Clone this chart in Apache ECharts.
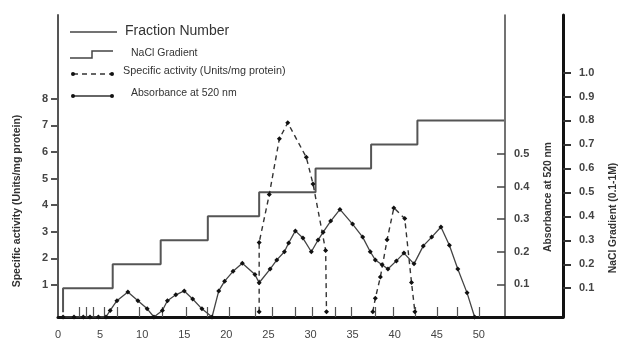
<!DOCTYPE html>
<html>
<head>
<meta charset="utf-8">
<script src="https://cdn.jsdelivr.net/npm/echarts@6/dist/echarts.min.js"></script>
<style>
  html, body { margin: 0; padding: 0; background: #fff; }
  #chart { width: 626px; height: 346px; }
</style>
</head>
<body>
<div id="chart"></div>
<script>
// NaCl gradient steps (fraction number where each step starts, molarity)
var naclFrac = [0.6, 0.6, 6.5, 12.2, 17.8, 23.9, 30.6, 37.2, 42.7, 53];
var naclVal = [0, 0.1, 0.2, 0.3, 0.4, 0.5, 0.6, 0.7, 0.8, 0.8];

// specific activity (Units/mg protein), null = gap between the two peaks
var actFrac = [23.9, 23.9, 25.1, 26.3, 27.3, 29.5, 30.3, 31.8, 31.9, 35, 37.4, 37.7, 38.3, 39.1, 39.9, 41.2, 42.0, 42.4];
var actVal = [0, 2.6, 4.4, 6.5, 7.1, 5.8, 4.8, 2.3, 0, null, 0, 0.5, 1.3, 2.7, 3.9, 3.5, 1.1, 0];

// absorbance at 520 nm
var absFrac = [0.6, 1.9, 3.0, 3.8, 4.8, 5.7, 6.2, 7.0, 8.3, 9.5, 10.6, 11.4, 12.4, 13.0, 14.0, 15.0, 16.0, 17.1,
  18.3, 19.1, 19.8, 20.8, 21.9, 23.4, 23.9, 25.2, 26.0, 26.9, 27.4, 28.2, 29.1, 30.1, 30.9, 31.5, 32.4, 33.5,
  35.0, 36.2, 37.1, 37.7, 38.5, 39.2, 40.2, 41.1, 42.3, 43.4, 44.4, 45.5, 46.5, 47.5, 48.6, 49.5];
var absVal = [0, 0, 0, 0, 0, 0, 0.02, 0.05, 0.077, 0.05, 0.025, 0, 0.02, 0.05, 0.068, 0.08, 0.055, 0.025,
  0, 0.08, 0.11, 0.14, 0.165, 0.13, 0.105, 0.147, 0.175, 0.2, 0.227, 0.264, 0.242, 0.2, 0.236, 0.26, 0.294, 0.33,
  0.285, 0.245, 0.2, 0.175, 0.16, 0.147, 0.172, 0.196, 0.163, 0.218, 0.245, 0.276, 0.22, 0.147, 0.074, 0];

// tick labels
var xLabels = [0, 5, 10, 15, 20, 25, 30, 35, 40, 45, 50];
var xTicks = [2.5, 3.4, 4.2, 5.5, 7, 9.7, 12.4, 15.2, 17.7, 20.4, 23.4, 25.4, 28.2, 30.2, 32.9, 34.9, 37.7, 39.8, 42.4, 45, 47.4, 50];
var actTicks = [1, 2, 3, 4, 5, 6, 7, 8];
var absTicks = [0.1, 0.2, 0.3, 0.4, 0.5];
var naclTicks = [0.1, 0.2, 0.3, 0.4, 0.5, 0.6, 0.7, 0.8, 0.9, 1.0];

function pairs(xs, ys) {
  return xs.map(function (x, i) { return [x, ys[i] === null ? '-' : ys[i]]; });
}

var myChart = echarts.init(document.getElementById('chart'));
var font = 'Liberation Sans';
var labelStyle = { fontSize: 11, fontWeight: 'bold', color: '#444', fontFamily: font };

var option = {
  animation: false,
  backgroundColor: '#fff',
  grid: { left: 58, right: 63, top: 15, bottom: 29 },
  xAxis: {
    type: 'value',
    min: 0,
    max: 60,
    splitLine: { show: false },
    axisLine: { onZero: false, lineStyle: { color: '#111', width: 3 } },
    axisTick: { inside: true, length: 10, customValues: xTicks, lineStyle: { color: '#555', width: 1.2 } },
    axisLabel: { customValues: xLabels, margin: 12, fontSize: 11, color: '#444', fontFamily: font }
  },
  yAxis: [{
    type: 'value',
    position: 'left',
    min: -0.2,
    max: 11.15,
    splitLine: { show: false },
    axisLine: { show: true, lineStyle: { color: '#555', width: 2 } },
    axisTick: { show: true, length: 7, customValues: actTicks, lineStyle: { color: '#555', width: 2 } },
    axisLabel: Object.assign({ customValues: actTicks, margin: 10 }, labelStyle)
  }, {
    type: 'value',
    position: 'right',
    offset: -58,
    min: 0,
    max: 0.926,
    splitLine: { show: false },
    axisLine: { show: true, lineStyle: { color: '#444', width: 1.5 } },
    axisTick: { show: true, inside: true, length: 8, customValues: absTicks, lineStyle: { color: '#444', width: 1.5 } },
    axisLabel: Object.assign({ customValues: absTicks, margin: 9, formatter: function (v) { return v.toFixed(1); } }, labelStyle)
  }, {
    type: 'value',
    position: 'right',
    offset: 0,
    min: -0.02,
    max: 1.24,
    splitLine: { show: false },
    axisLine: { show: true, lineStyle: { color: '#111', width: 3 } },
    axisTick: { show: true, length: 8, customValues: naclTicks, lineStyle: { color: '#333', width: 2 } },
    axisLabel: Object.assign({ customValues: naclTicks, margin: 16, formatter: function (v) { return v.toFixed(1); } }, labelStyle)
  }],
  series: [{
    name: 'NaCl Gradient',
    type: 'line',
    yAxisIndex: 2,
    step: 'end',
    symbol: 'none',
    lineStyle: { color: '#555', width: 2 },
    data: pairs(naclFrac, naclVal)
  }, {
    name: 'Specific activity (Units/mg protein)',
    type: 'line',
    yAxisIndex: 0,
    symbol: 'diamond',
    symbolSize: 5,
    connectNulls: false,
    itemStyle: { color: '#111' },
    lineStyle: { color: '#333', width: 1.4, type: [5, 4] },
    data: pairs(actFrac, actVal)
  }, {
    name: 'Absorbance at 520 nm',
    type: 'line',
    yAxisIndex: 1,
    symbol: 'diamond',
    symbolSize: 5,
    itemStyle: { color: '#111' },
    lineStyle: { color: '#444', width: 1.3 },
    data: pairs(absFrac, absVal)
  }],
  graphic: [
    // legend
    { type: 'line', shape: { x1: 70, y1: 32, x2: 117, y2: 32 }, style: { stroke: '#444', lineWidth: 1.5 } },
    { type: 'text', x: 125, y: 31, style: { text: 'Fraction Number', fontSize: 14, fill: '#333', fontFamily: font, verticalAlign: 'middle' } },
    { type: 'polyline', shape: { points: [[70, 58], [92, 58], [92, 51], [113, 51]] }, style: { stroke: '#444', lineWidth: 1.5, fill: null } },
    { type: 'text', x: 131, y: 53, style: { text: 'NaCl Gradient', fontSize: 10.5, fill: '#333', fontFamily: font, verticalAlign: 'middle' } },
    { type: 'line', shape: { x1: 73, y1: 74, x2: 112, y2: 74 }, style: { stroke: '#333', lineWidth: 1.4, lineDash: [5, 4] } },
    { type: 'circle', shape: { cx: 73, cy: 74, r: 2 }, style: { fill: '#111' } },
    { type: 'circle', shape: { cx: 112, cy: 74, r: 2 }, style: { fill: '#111' } },
    { type: 'text', x: 123, y: 71, style: { text: 'Specific activity (Units/mg protein)', fontSize: 10.8, fill: '#333', fontFamily: font, verticalAlign: 'middle' } },
    { type: 'line', shape: { x1: 73, y1: 96, x2: 112, y2: 96 }, style: { stroke: '#333', lineWidth: 1.4 } },
    { type: 'circle', shape: { cx: 73, cy: 96, r: 2 }, style: { fill: '#111' } },
    { type: 'circle', shape: { cx: 112, cy: 96, r: 2 }, style: { fill: '#111' } },
    { type: 'text', x: 131, y: 93, style: { text: 'Absorbance at 520 nm', fontSize: 10.5, fill: '#333', fontFamily: font, verticalAlign: 'middle' } },
    // axis titles
    { type: 'text', x: 17, y: 201, rotation: Math.PI / 2, style: { text: 'Specific activity (Units/mg protein)', fontSize: 10.5, fontWeight: 'bold', fill: '#333', fontFamily: font, align: 'center', verticalAlign: 'middle' } },
    { type: 'text', x: 548, y: 197, rotation: Math.PI / 2, style: { text: 'Absorbance at 520 nm', fontSize: 10.3, fontWeight: 'bold', fill: '#333', fontFamily: font, align: 'center', verticalAlign: 'middle' } },
    { type: 'text', x: 613, y: 218, rotation: Math.PI / 2, style: { text: 'NaCl Gradient (0.1-1M)', fontSize: 10.3, fontWeight: 'bold', fill: '#333', fontFamily: font, align: 'center', verticalAlign: 'middle' } }
  ]
};
myChart.setOption(option);
</script>
</body>
</html>
